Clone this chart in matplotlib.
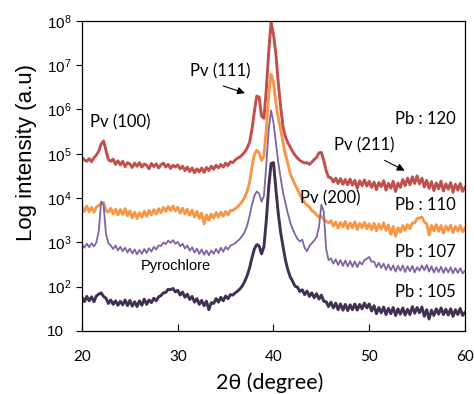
# XRD patterns, log intensity vs 2theta
import numpy as np
import matplotlib
matplotlib.use('Agg')
from matplotlib import pyplot as plt

# 2theta grid (degree), 0.25 step
two_theta = np.arange(20.0, 60.001, 0.25)

# log10 intensity
log_pb120 = [
    4.92, 4.86, 4.83, 4.89, 4.82, 4.91, 4.97, 5.06,
    5.22, 5.29, 5.08, 4.87, 4.83, 4.88, 4.76, 4.84,
    4.75, 4.83, 4.71, 4.80, 4.77, 4.69, 4.79, 4.72,
    4.80, 4.70, 4.77, 4.74, 4.66, 4.78, 4.71, 4.77,
    4.68, 4.75, 4.79, 4.70, 4.76, 4.67, 4.74, 4.70,
    4.75, 4.66, 4.72, 4.62, 4.70, 4.60, 4.68, 4.57,
    4.66, 4.59, 4.68, 4.58, 4.69, 4.62, 4.72, 4.65,
    4.74, 4.68, 4.76, 4.70, 4.79, 4.73, 4.82, 4.80,
    4.86, 4.90, 4.93, 4.98, 5.04, 5.13, 5.26, 5.55,
    5.95, 6.30, 6.28, 5.85, 5.80, 6.45, 7.30, 7.97,
    7.70, 7.25, 6.60, 6.05, 5.60, 5.38, 5.25, 5.15,
    5.05, 4.97, 4.90, 4.85, 4.82, 4.79, 4.80, 4.76,
    4.81, 4.87, 4.92, 5.02, 5.03, 4.85, 4.62, 4.47,
    4.46, 4.36, 4.45, 4.33, 4.44, 4.31, 4.42, 4.30,
    4.43, 4.29, 4.40, 4.22, 4.39, 4.28, 4.41, 4.27,
    4.38, 4.24, 4.36, 4.19, 4.35, 4.26, 4.39, 4.18,
    4.33, 4.22, 4.38, 4.15, 4.34, 4.24, 4.42, 4.28,
    4.45, 4.30, 4.48, 4.33, 4.50, 4.32, 4.45, 4.25,
    4.40, 4.22, 4.37, 4.17, 4.34, 4.21, 4.38, 4.16,
    4.32, 4.20, 4.35, 4.13, 4.31, 4.18, 4.33, 4.15,
    4.24]

log_pb110 = [
    3.80, 3.70, 3.82, 3.69, 3.79, 3.68, 3.80, 3.83,
    3.88, 3.90, 3.72, 3.68, 3.77, 3.64, 3.75, 3.62,
    3.74, 3.63, 3.76, 3.60, 3.71, 3.55, 3.68, 3.54,
    3.67, 3.57, 3.70, 3.59, 3.72, 3.62, 3.74, 3.64,
    3.76, 3.67, 3.79, 3.70, 3.81, 3.72, 3.82, 3.71,
    3.79, 3.66, 3.77, 3.64, 3.75, 3.61, 3.73, 3.57,
    3.70, 3.54, 3.66, 3.42, 3.62, 3.50, 3.64, 3.55,
    3.67, 3.57, 3.68, 3.59, 3.70, 3.62, 3.72, 3.72,
    3.76, 3.80, 3.86, 3.93, 4.02, 4.15, 4.35, 4.70,
    4.98, 5.08, 5.02, 4.85, 4.95, 5.55, 6.35, 6.80,
    6.60, 6.15, 5.80, 5.55, 5.25, 4.98, 4.78, 4.55,
    4.42, 4.30, 4.20, 4.08, 3.98, 3.90, 3.84, 3.80,
    3.72, 3.68, 3.62, 3.57, 3.59, 3.52, 3.48, 3.44,
    3.49, 3.37, 3.46, 3.32, 3.45, 3.35, 3.47, 3.31,
    3.44, 3.33, 3.46, 3.29, 3.43, 3.33, 3.45, 3.31,
    3.42, 3.29, 3.43, 3.26, 3.41, 3.30, 3.44, 3.27,
    3.39, 3.18, 3.36, 3.14, 3.33, 3.23, 3.38, 3.27,
    3.40, 3.31, 3.44, 3.44, 3.54, 3.55, 3.57, 3.46,
    3.42, 3.17, 3.38, 3.26, 3.40, 3.25, 3.38, 3.21,
    3.37, 3.27, 3.39, 3.22, 3.36, 3.26, 3.38, 3.24,
    3.32]

log_pb107 = [
    2.95, 2.88, 2.97, 2.89, 2.98, 2.91, 3.00, 3.25,
    3.92, 3.85, 3.20, 2.98, 2.93, 2.85, 2.93, 2.82,
    2.90, 2.80, 2.88, 2.77, 2.86, 2.75, 2.84, 2.73,
    2.83, 2.74, 2.85, 2.76, 2.87, 2.79, 2.90, 2.84,
    2.93, 2.92, 3.00, 2.96, 3.04, 2.99, 3.05, 2.97,
    3.01, 2.91, 2.97, 2.86, 2.93, 2.81, 2.89, 2.77,
    2.86, 2.74, 2.84, 2.72, 2.82, 2.71, 2.82, 2.74,
    2.85, 2.76, 2.88, 2.79, 2.90, 2.84, 2.93, 2.95,
    2.98, 3.03, 3.08, 3.15, 3.24, 3.38, 3.60, 3.85,
    4.05, 4.15, 4.10, 3.92, 4.05, 4.75, 5.55, 5.98,
    5.70, 5.25, 4.80, 4.45, 4.12, 3.88, 3.65, 3.45,
    3.30, 3.18, 3.08, 3.02, 3.06, 2.88, 2.80, 2.92,
    2.98, 3.04, 3.12, 3.35, 3.85, 3.70, 2.85, 2.60,
    2.64, 2.52, 2.62, 2.49, 2.60, 2.47, 2.59, 2.46,
    2.58, 2.45, 2.57, 2.44, 2.56, 2.50, 2.60, 2.63,
    2.67, 2.56, 2.57, 2.44, 2.54, 2.42, 2.52, 2.38,
    2.50, 2.37, 2.48, 2.34, 2.47, 2.36, 2.48, 2.33,
    2.46, 2.35, 2.47, 2.32, 2.44, 2.36, 2.48, 2.37,
    2.49, 2.34, 2.46, 2.32, 2.44, 2.33, 2.45, 2.31,
    2.43, 2.32, 2.44, 2.30, 2.42, 2.31, 2.42, 2.30,
    2.36]

log_pb105 = [
    1.76, 1.66, 1.78, 1.68, 1.77, 1.66, 1.79, 1.83,
    1.86, 1.78, 1.74, 1.62, 1.70, 1.60, 1.68, 1.58,
    1.67, 1.59, 1.70, 1.57, 1.69, 1.56, 1.66, 1.55,
    1.68, 1.58, 1.72, 1.60, 1.70, 1.64, 1.74, 1.68,
    1.77, 1.80, 1.86, 1.87, 1.94, 1.93, 1.96, 1.88,
    1.92, 1.81, 1.88, 1.76, 1.83, 1.71, 1.78, 1.65,
    1.73, 1.60, 1.69, 1.57, 1.67, 1.48, 1.64, 1.62,
    1.73, 1.65, 1.76, 1.68, 1.79, 1.73, 1.82, 1.81,
    1.86, 1.90, 1.95, 2.02, 2.12, 2.25, 2.42, 2.65,
    2.85, 2.95, 2.92, 2.74, 2.90, 3.50, 4.25, 4.78,
    4.80, 4.20, 3.65, 3.22, 2.90, 2.60, 2.38, 2.22,
    2.12, 2.01, 1.99, 1.89, 1.93, 1.82, 1.90, 1.78,
    1.86, 1.75, 1.84, 1.72, 1.81, 1.67, 1.66, 1.55,
    1.65, 1.52, 1.63, 1.48, 1.61, 1.47, 1.60, 1.46,
    1.59, 1.48, 1.61, 1.47, 1.60, 1.50, 1.63, 1.52,
    1.61, 1.45, 1.57, 1.39, 1.53, 1.41, 1.54, 1.37,
    1.51, 1.39, 1.53, 1.35, 1.50, 1.38, 1.52, 1.36,
    1.49, 1.37, 1.55, 1.40, 1.53, 1.41, 1.54, 1.33,
    1.48, 1.27, 1.47, 1.35, 1.50, 1.38, 1.52, 1.37,
    1.49, 1.36, 1.50, 1.33, 1.48, 1.37, 1.51, 1.35,
    1.42]

series_labels = ['Pb : 120', 'Pb : 110', 'Pb : 107', 'Pb : 105']
series_colors = ['#c0504d', '#f79646', '#8064a2', '#403152']

y_ticks = [1e1, 1e2, 1e3, 1e4, 1e5, 1e6, 1e7, 1e8]
y_tick_labels = ['10', '10$^{2}$', '10$^{3}$', '10$^{4}$', '10$^{5}$',
                 '10$^{6}$', '10$^{7}$', '10$^{8}$']
x_ticks = [20, 30, 40, 50, 60]

plt.rcParams['mathtext.fontset'] = 'custom'
plt.rcParams['mathtext.rm'] = 'Liberation Sans'
plt.rcParams['mathtext.default'] = 'regular'

fig = plt.figure(figsize=(4.74, 3.94), dpi=100)
ax = fig.add_axes([0.173, 0.160, 0.808, 0.787])

all_logs = [log_pb120, log_pb110, log_pb107, log_pb105]
widths = [2.1, 2.1, 1.3, 2.1]
for logs, color, lw in zip(all_logs, series_colors, widths):
    ax.plot(two_theta, np.power(10.0, logs), color=color, lw=lw)

ax.set_yscale('log')
ax.set_xlim(20, 60)
ax.set_ylim(10, 1e8)
ax.set_yticks(y_ticks)
ax.set_yticklabels(y_tick_labels, family='Liberation Sans', fontsize=11)
ax.minorticks_off()
ax.set_xticks(x_ticks)
ax.set_xticklabels([str(t) for t in x_ticks], family='Lato', fontsize=11)
ax.tick_params(axis='x', direction='in', length=5, width=0.8, pad=14)
ax.tick_params(axis='y', direction='out', length=4, width=0.8, pad=21)
for lab in ax.get_yticklabels():
    lab.set_horizontalalignment('left')
for sp in ax.spines.values():
    sp.set_linewidth(0.9)

fig.text(27 / 474, 1 - 152 / 394, 'Log intensity (a.u)', rotation=90,
         ha='center', va='center', family='Liberation Sans', fontsize=16)
fig.text(270 / 474, 1 - 383 / 394, '2θ (degree)', ha='center', va='center',
         family=['Lato', 'DejaVu Sans'], fontsize=15.5)

# peak labels
font_ann = dict(family='Lato', fontsize=12, ha='center', va='center')
ax.text(23.96, 10 ** 5.70, 'Pv (100)', **font_ann)
ax.text(34.48, 10 ** 6.87, 'Pv (111)', **font_ann)
ax.text(49.48, 10 ** 5.18, 'Pv (211)', **font_ann)
ax.text(45.89, 10 ** 4.00, 'Pv (200)', **font_ann)
ax.text(29.84, 10 ** 2.47, 'Pyrochlore', family='Liberation Sans',
        fontsize=10.5, ha='center', va='center')

arrow = dict(arrowstyle='-|>', color='black', lw=0.8, mutation_scale=11)
ax.annotate('', xy=(37.29, 10 ** 6.35), xytext=(34.48, 10 ** 6.55), arrowprops=arrow)
ax.annotate('', xy=(53.96, 10 ** 4.59), xytext=(51.35, 10 ** 4.88), arrowprops=arrow)

# sample labels on the right
label_logs = [5.79, 3.84, 2.78, 1.88]
for lab, lg in zip(series_labels, label_logs):
    ax.text(55.83, 10 ** lg, lab, **font_ann)

fig.savefig('out.png', dpi=100)
